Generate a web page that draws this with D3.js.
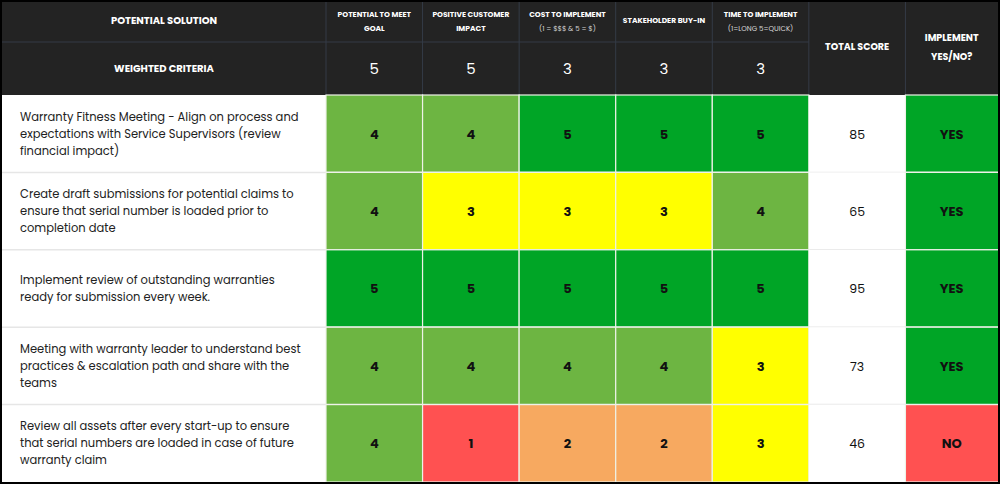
<!DOCTYPE html>
<html lang="en">
<head>
    <meta charset="utf-8">
    <title>Weighted criteria</title>
    <script src="https://d3js.org/d3.v7.min.js" charset="utf-8"></script>
    <style type="text/css">
        body { margin: 0; background: #fff; }
        svg { display: block; }
    </style>
</head>
<body>
    <script type="text/javascript">
        var solutions = [
            "Warranty Fitness Meeting - Align on process and expectations with Service Supervisors (review financial impact)",
            "Create draft submissions for potential claims to ensure that serial number is loaded prior to completion date",
            "Implement review of outstanding warranties ready for submission every week.",
            "Meeting with warranty leader to understand best practices & escalation path and share with the teams",
            "Review all assets after every start-up to ensure that serial numbers are loaded in case of future warranty claim"
        ];
        var criteria = ["POTENTIAL TO MEET|GOAL", "POSITIVE CUSTOMER|IMPACT", "COST TO IMPLEMENT", "STAKEHOLDER BUY-IN", "TIME TO IMPLEMENT"];
        var criteriaNotes = ["", "", "(1 = $$$ & 5 = $)", "", "(1=LONG 5=QUICK)"];
        var weights = [5, 5, 3, 3, 3];
        var scores = [
            [4, 4, 5, 5, 5],
            [4, 3, 3, 3, 4],
            [5, 5, 5, 5, 5],
            [4, 4, 4, 4, 3],
            [4, 1, 2, 2, 3]
        ];
        var totals = [85, 65, 95, 73, 46];
        var implement = ["YES", "YES", "YES", "YES", "NO"];

        var width = 1000;
        var height = 484;
        var headTop = 2, headMid = 42, headBot = 95, bottom = 482;
        var firstW = 326, right = 998;

        var svg = d3.select("body")
                    .append("svg")
                    .attr("width", width)
                    .attr("height", height);

        var cols = criteria.map(function(d, i) { return "c" + i; }).concat(["total", "impl"]);
        var x = d3.scaleBand().domain(cols).range([firstW, 1002]);
        var y = d3.scaleBand().domain(d3.range(solutions.length)).range([headBot, bottom]);

        var scoreColor = d3.scaleOrdinal()
            .domain([1, 2, 3, 4, 5])
            .range(["#ff5151", "#f7a960", "#ffff00", "#6db542", "#00a526"]);
        var implColor = d3.scaleOrdinal().domain(["YES", "NO"]).range(["#00a526", "#ff5151"]);

        var bodyFont = "Poppins, 'Open Sans', sans-serif";
        var headFont = "Poppins, Inter, 'DejaVu Sans', sans-serif";

        // white page + header background
        svg.append("rect").attr("width", width).attr("height", height).attr("fill", "#fff");
        svg.append("rect").attr("x", 0).attr("y", 0).attr("width", width).attr("height", headBot).attr("fill", "#232323");

        var grid = "#343b47";
        svg.append("line").attr("x1", 2).attr("x2", x("total")).attr("y1", headMid).attr("y2", headMid)
            .attr("stroke", grid).attr("stroke-width", 1);
        cols.forEach(function(c) {
            svg.append("line").attr("x1", x(c)).attr("x2", x(c)).attr("y1", headTop).attr("y2", headBot)
                .attr("stroke", grid).attr("stroke-width", 1);
        });

        svg.append("text").attr("x", firstW / 2 + 1).attr("y", 24)
            .attr("text-anchor", "middle").attr("fill", "#fff")
            .attr("font-family", headFont).attr("font-weight", "bold").attr("font-size", "10px")
            .text("POTENTIAL SOLUTION");
        svg.append("text").attr("x", firstW / 2 + 1).attr("y", 72)
            .attr("text-anchor", "middle").attr("fill", "#fff")
            .attr("font-family", headFont).attr("font-weight", "bold").attr("font-size", "10px")
            .text("WEIGHTED CRITERIA");

        criteria.forEach(function(c, i) {
            var cx = x("c" + i) + x.bandwidth() / 2;
            var lines = c.split("|");
            var t = svg.append("text").attr("text-anchor", "middle").attr("fill", "#fff")
                .attr("font-family", headFont).attr("font-weight", "bold").attr("font-size", "7.5px");
            if (lines.length > 1 || criteriaNotes[i]) {
                t.append("tspan").attr("x", cx).attr("y", 17).text(lines[0]);
                if (lines.length > 1) t.append("tspan").attr("x", cx).attr("y", 31).text(lines[1]);
                else t.append("tspan").attr("x", cx).attr("y", 31).attr("font-weight", "normal")
                        .attr("font-size", "7px").attr("fill", "#d8d8d8").text(criteriaNotes[i]);
            } else {
                t.attr("x", cx).attr("y", 23).text(c);
            }
            svg.append("text").attr("x", cx).attr("y", 74).attr("text-anchor", "middle").attr("fill", "#fff")
                .attr("font-family", bodyFont).attr("font-size", "15px").text(weights[i]);
        });

        svg.append("text").attr("x", x("total") + x.bandwidth() / 2).attr("y", 50)
            .attr("text-anchor", "middle").attr("fill", "#fff")
            .attr("font-family", headFont).attr("font-weight", "bold").attr("font-size", "9.5px")
            .text("TOTAL SCORE");
        var implCx = (x("impl") + right) / 2;
        var it = svg.append("text").attr("text-anchor", "middle").attr("fill", "#fff")
            .attr("font-family", headFont).attr("font-weight", "bold").attr("font-size", "9.5px");
        it.append("tspan").attr("x", implCx).attr("y", 41).text("IMPLEMENT");
        it.append("tspan").attr("x", implCx).attr("y", 60).text("YES/NO?");

        // body rows
        var rows = svg.selectAll("g.row")
            .data(solutions)
            .enter()
            .append("g")
            .attr("class", "row")
            .attr("transform", function(d, i) { return "translate(0," + y(i) + ")"; });

        rows.append("line").attr("x1", 2).attr("x2", right).attr("y1", 0).attr("y2", 0)
            .attr("stroke", "#e6e6e6").attr("stroke-width", 1.5)
            .attr("display", function(d, i) { return i == 0 ? "none" : null; });

        rows.append("text")
            .attr("font-family", bodyFont).attr("font-size", "11.5px").attr("fill", "#222")
            .each(function(d) {
                var words = d.split(" ");
                var t = d3.select(this);
                var lines = [];
                var cur = "";
                var probe = t.append("tspan");
                words.forEach(function(w) {
                    var test = cur ? cur + " " + w : w;
                    probe.text(test);
                    if (probe.node().getComputedTextLength() > 282 && cur) {
                        lines.push(cur);
                        cur = w;
                    } else {
                        cur = test;
                    }
                });
                lines.push(cur);
                probe.remove();
                var start = y.bandwidth() / 2 - (lines.length - 1) * 8.5 + 4;
                lines.forEach(function(l, k) {
                    t.append("tspan").attr("x", 20).attr("y", start + k * 17).text(l);
                });
            });

        rows.each(function(d, i) {
            var g = d3.select(this);
            var cells = scores[i].map(function(v, j) { return { col: "c" + j, fill: scoreColor(v), label: v }; });
            cells.push({ col: "total", fill: "#fff", label: totals[i], plain: true });
            cells.push({ col: "impl", fill: implColor(implement[i]), label: implement[i] });

            var cg = g.selectAll("g.cell").data(cells).enter().append("g").attr("class", "cell");
            cg.append("rect")
                .attr("x", function(c) { return x(c.col); })
                .attr("y", 0)
                .attr("width", x.bandwidth())
                .attr("height", y.bandwidth())
                .attr("fill", function(c) { return c.fill; })
                .attr("stroke", function(c) { return c.plain ? "none" : "#eef2e8"; })
                .attr("stroke-width", 1.2);
            cg.append("text")
                .attr("x", function(c) { return c.col == "impl" ? implCx : x(c.col) + x.bandwidth() / 2; })
                .attr("y", y.bandwidth() / 2 + 5)
                .attr("text-anchor", "middle")
                .attr("font-family", bodyFont)
                .attr("font-weight", function(c) { return c.plain ? "normal" : "bold"; })
                .attr("font-size", function(c) { return c.plain ? "12.5px" : "13px"; })
                .attr("fill", "#111")
                .text(function(c) { return c.label; });
        });

        // black frame drawn last so it sits over the cells
        svg.append("rect").attr("x", 1).attr("y", 1).attr("width", right - 0).attr("height", bottom)
            .attr("fill", "none").attr("stroke", "#000").attr("stroke-width", 2);
        svg.append("rect").attr("x", right).attr("y", 0).attr("width", width - right).attr("height", height).attr("fill", "#000");
        svg.append("rect").attr("x", 0).attr("y", bottom).attr("width", width).attr("height", height - bottom).attr("fill", "#000");
    </script>
</body>
</html>
